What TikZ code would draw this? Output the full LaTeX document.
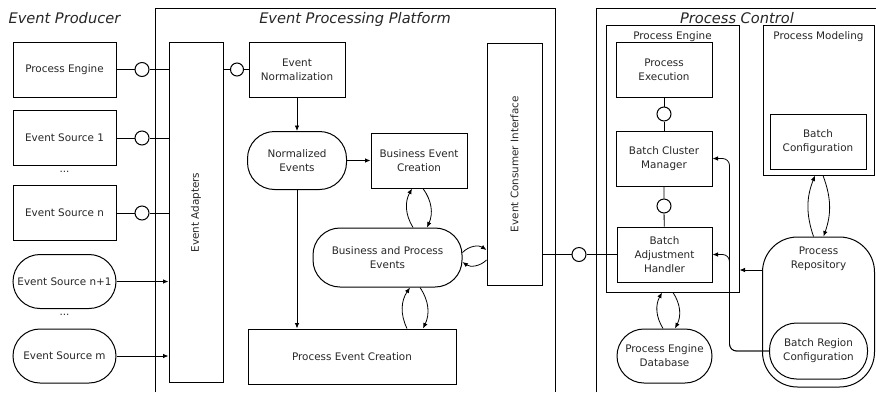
\documentclass[tikz,border=0pt]{standalone}
\usepackage{fontspec}
\setmainfont{DejaVu Sans}[ItalicFont={DejaVu Sans Oblique}]
\usetikzlibrary{arrows.meta}

\tikzset{
  box/.style={draw, line width=1pt, align=center, minimum width=96pt, minimum height=55pt, inner sep=2pt},
  pill/.style={box, rounded corners=27pt},
  port/.style={draw, line width=1pt, circle, minimum size=14pt, inner sep=0pt},
  frame/.style={draw, line width=1pt, inner sep=0pt},
  title/.style={font=\fontsize{14.6}{17}\selectfont\itshape, anchor=base},
  link/.style={line width=0.8pt},
  arr/.style={link, -{Latex[length=5.5pt,width=4.5pt]}},
}

\begin{document}
\begin{tikzpicture}[x=1pt, y=-1pt, font=\fontsize{10.4}{14}\selectfont, text=black!85]
\useasboundingbox (0,0) rectangle (876,392);

% Frames
\draw[line width=1pt] (155,392) |- (555,8) -- (555,392);
\draw[line width=1pt] (596,392) |- (876,8);
\node[title, anchor=base west] (prodtitle) at (5,23) {Event Producer};
\node[title] (platftitle) at (355,23) {Event Processing Platform};
\node[title] (ctrltitle) at (737,23) {Process Control};

% Event producer - left column
\node[box, minimum width=103pt] (pe) at (64.5,69.5) {Process Engine};
\node[box, minimum width=103pt] (es1) at (64.5,138) {Event Source 1};
\node (dots1) at (64.5,172) {...};
\node[box, minimum width=103pt] (esn) at (64.5,213) {Event Source n};
\node[pill, minimum width=103pt, minimum height=54pt] (esn1) at (64.5,281.5) {Event Source n+1};
\node (dots2) at (64.5,315) {...};
\node[pill, minimum width=103pt, minimum height=54pt] (esm) at (64.5,356) {Event Source m};

% Event processing platform
\node[frame, minimum width=54pt, minimum height=340pt] (adapt) at (196,212.5) {};
\node[rotate=90] (adaptlbl) at (adapt) {Event Adapters};
\node[box] (norm) at (297,69.5) {Event\\Normalization};
\node[pill, minimum width=99pt, minimum height=58pt] (nev) at (297,160.5) {Normalized\\Events};
\node[box] (bec) at (419,160.5) {Business Event\\Creation};
\node[pill, minimum width=149pt, minimum height=59pt] (bpe) at (387.5,257.5) {Business and Process\\Events};
\node[box, minimum width=208pt] (pec) at (352,356.5) {Process Event Creation};
\node[frame, minimum width=55pt, minimum height=242pt] (eci) at (514.5,164) {};
\node[rotate=90] (ecilbl) at (eci) {Event Consumer Interface};

% Process control
\node[frame, minimum width=133pt, minimum height=267pt] (pefr) at (672.5,158.5) {};
\node[anchor=base] (pefrlbl) at (672.5,39.5) {Process Engine};
\node[frame, minimum width=111pt, minimum height=150pt] (pmfr) at (818.5,100) {};
\node[anchor=base] (pmfrlbl) at (818.5,39.5) {Process Modeling};
\node[box] (pex) at (664,70) {Process\\Execution};
\node[box] (bcm) at (664,158.5) {Batch Cluster\\Manager};
\node[box, minimum width=95pt] (bah) at (664.5,254.5) {Batch\\Adjustment\\Handler};
\node[box] (bcf) at (818,141.5) {Batch\\Configuration};
\node[frame, rounded corners=35pt, minimum width=112pt, minimum height=150pt] (repo) at (818.5,312) {};
\node[align=center] (repolbl) at (818.5,259) {Process\\Repository};
\node[pill, minimum width=98pt, minimum height=56pt] (brc) at (818.5,351) {Batch Region\\Configuration};
\node[pill, minimum width=95pt, minimum height=54pt] (ped) at (664.5,356) {Process Engine\\Database};

% Ports
\node[port] (c1) at (142,69.5) {};
\node[port] (c2) at (142,138) {};
\node[port] (c3) at (142,213) {};
\node[port, minimum size=13pt] (cn) at (237,69.5) {};
\node[port] (ceci) at (579,254.5) {};
\node[port] (cpx) at (664,114) {};
\node[port] (cbm) at (664,206) {};

% Connectors
\draw[link] (pe) -- (c1) -- (c1 -| adapt.west);
\draw[link] (es1) -- (c2) -- (c2 -| adapt.west);
\draw[link] (esn) -- (c3) -- (c3 -| adapt.west);
\draw[arr] (esn1) -- (esn1 -| adapt.west);
\draw[arr] (esm) -- (esm -| adapt.west);
\draw[link] (cn -| adapt.east) -- (cn) -- (norm);
\draw[arr] (norm) -- (nev);
\draw[arr] (nev) -- (bec);
\draw[arr] (nev.south) -- (nev.south |- pec.north);
\draw[arr] ([xshift=25.5pt]bpe.north) to[bend left=30] ([xshift=-7pt]bec.south);
\draw[arr] ([xshift=4pt]bec.south) to[bend left=30] ([xshift=39.5pt]bpe.north);
\draw[arr] ([xshift=55pt]pec.north) to[bend left=30] ([xshift=22.5pt]bpe.south);
\draw[arr] ([xshift=32.5pt]bpe.south) to[bend left=30] ([xshift=71pt]pec.north);
\draw[arr] ([yshift=5pt]bpe.east) to[bend left=40] ([yshift=-86pt]eci.west);
\draw[arr] ([yshift=-96pt]eci.west) to[bend left=40] ([yshift=-4.5pt]bpe.east);
\draw[link] (ceci -| eci.east) -- (ceci) -- (bah);
\draw[link] (pex) -- (cpx) -- (bcm);
\draw[link] (bcm) -- (cbm) -- (bah);
\draw[arr] ([xshift=-1.5pt]ped.north) to[bend left=30] ([xshift=-10.5pt]pefr.south);
\draw[arr] ([xshift=0.5pt]pefr.south) to[bend left=30] ([xshift=10.5pt]ped.north);
\draw[arr] ([xshift=-5pt]repo.north) to[bend left=20] ([xshift=-3.5pt]pmfr.south);
\draw[arr] ([xshift=4.5pt]pmfr.south) to[bend left=20] ([xshift=5pt]repo.north);
\coordinate (rp) at ([yshift=42pt]repo.west);
\draw[arr] (rp) -- (rp -| pefr.east);
\draw[arr, rounded corners=7pt] (brc.west) -| ([xshift=17pt]bah.east) -- (bah.east);
\draw[arr, rounded corners=7pt] (brc.west) -| ([xshift=17pt]bcm.east) -- (bcm.east);
\end{tikzpicture}
\end{document}
